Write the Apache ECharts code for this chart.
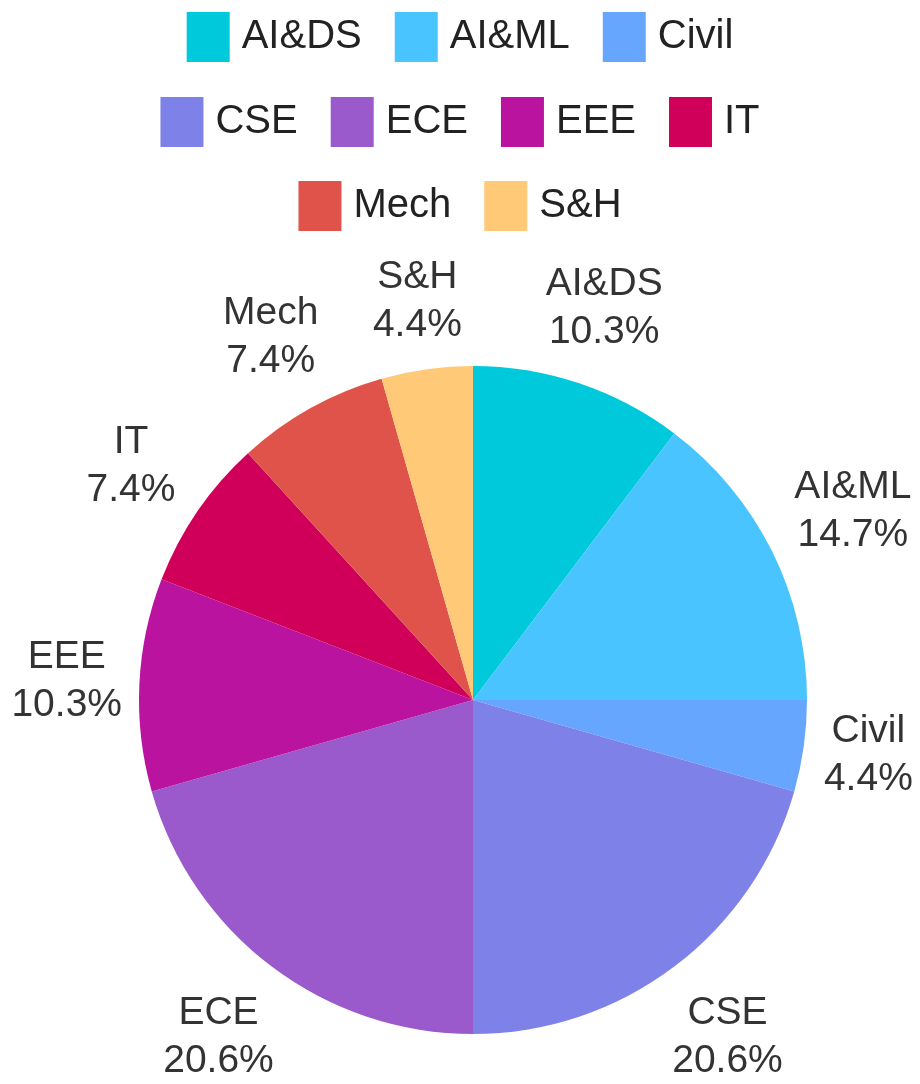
<!DOCTYPE html>
<html>
<head>
<meta charset="utf-8">
<script src="https://cdn.jsdelivr.net/npm/echarts@6/dist/echarts.min.js"></script>
<style>html,body{margin:0;padding:0;background:#fff;}#chart{width:920px;height:1084px;}</style>
</head>
<body>
<div id="chart"></div>
<script>
const categories = ['AI&DS', 'AI&ML', 'Civil', 'CSE', 'ECE', 'EEE', 'IT', 'Mech', 'S&H'];
const values = [7, 10, 3, 14, 14, 7, 5, 5, 3];
const colors = ['#00C9DB', '#49C4FF', '#66A6FF', '#7E82E8', '#9A5ACB', '#BA13A0', '#D0005A', '#E0534A', '#FFC977'];
const legendRows = [['AI&DS', 'AI&ML', 'Civil'], ['CSE', 'ECE', 'EEE', 'IT'], ['Mech', 'S&H']];

const total = values.reduce((a, b) => a + b, 0);
const pieData = categories.map((c, i) => ({ name: c, value: values[i], itemStyle: { color: colors[i] } }));

const CX = 473, CY = 700, R = 334, LABEL_CLEAR = 351;

const rowTops = [12, 97, 181];
const legends = legendRows.map((row, k) => ({
  data: row,
  top: rowTops[k],
  left: 'center',
  padding: 0,
  itemWidth: 43,
  itemHeight: 50,
  itemGap: 33,
  icon: 'rect',
  orient: 'horizontal',
  textStyle: { fontFamily: 'Liberation Sans, Arial, sans-serif', fontSize: 40, color: '#222', padding: [0, 0, 0, 7] }
}));

// move each label outward along its slice direction until its box clears a circle
function placeLabel(params) {
  const r = params.labelRect;
  const mx = r.x + r.width / 2 - CX, my = r.y + r.height / 2 - CY;
  const len = Math.hypot(mx, my) || 1;
  const ux = mx / len, uy = my / len;
  const a = r.width / 2, b = r.height / 2;
  let lo = 0, hi = 1200;
  for (let k = 0; k < 60; k++) {
    const t = (lo + hi) / 2;
    const px = ux * t, py = uy * t;
    const dx = Math.max(Math.abs(px) - a, 0), dy = Math.max(Math.abs(py) - b, 0);
    if (Math.hypot(dx, dy) >= LABEL_CLEAR) hi = t; else lo = t;
  }
  return { x: CX + ux * hi, y: CY + uy * hi, align: 'center', verticalAlign: 'middle' };
}

const chart = echarts.init(document.getElementById('chart'), null, { renderer: 'canvas' });
chart.setOption({
  animation: false,
  backgroundColor: '#fff',
  legend: legends,
  series: [
    {
      type: 'pie',
      center: [CX, CY],
      radius: [0, R],
      startAngle: 90,
      clockwise: true,
      silent: true,
      label: {
        show: true,
        position: 'inside',
        formatter: p => p.name + '\n' + (p.value / total * 100).toFixed(1) + '%',
        fontFamily: 'Liberation Sans, Arial, sans-serif',
        fontSize: 39,
        lineHeight: 48,
        color: '#333',
        textBorderWidth: 0,
        align: 'center'
      },
      labelLine: { show: false },
      labelLayout: placeLabel,
      data: pieData
    }
  ]
});
</script>
</body>
</html>
